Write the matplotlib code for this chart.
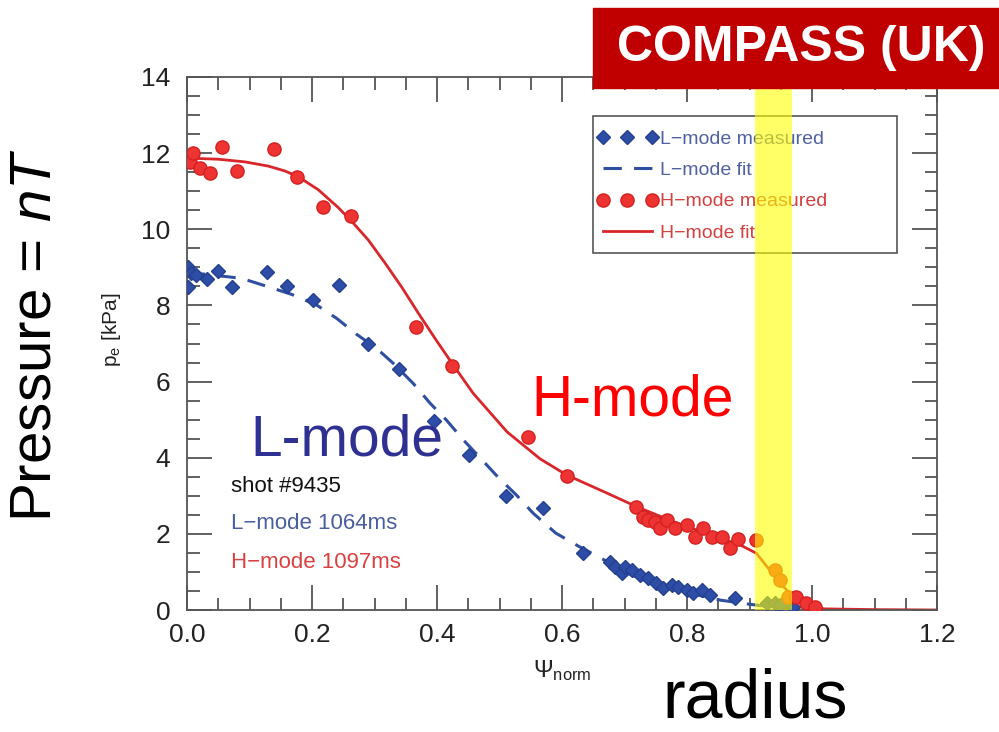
import matplotlib.pyplot as plt
import numpy as np
from matplotlib.ticker import MultipleLocator
from matplotlib.patches import Rectangle

plt.rcParams['font.family'] = ['Liberation Sans', 'DejaVu Sans']
plt.rcParams['mathtext.fontset'] = 'custom'
plt.rcParams['mathtext.rm'] = 'Liberation Sans'
plt.rcParams['mathtext.it'] = 'Liberation Sans:italic'

# H-mode profile, shot #9435 at 1097 ms
h_psi = [0.005, 0.01, 0.02, 0.037, 0.056, 0.08, 0.139, 0.176, 0.218, 0.262,
         0.366, 0.424, 0.546, 0.608, 0.719, 0.730, 0.738, 0.749, 0.757, 0.768,
         0.781, 0.800, 0.813, 0.826, 0.840, 0.856, 0.869, 0.882, 0.910, 0.941,
         0.949, 0.962, 0.975, 0.991, 1.005]
h_pe = [11.77, 12.0, 11.6, 11.48, 12.16, 11.53, 12.1, 11.37, 10.59, 10.35,
        7.43, 6.41, 4.55, 3.52, 2.71, 2.45, 2.36, 2.32, 2.15, 2.36,
        2.15, 2.23, 1.93, 2.15, 1.93, 1.93, 1.62, 1.86, 1.84, 1.05,
        0.79, 0.35, 0.35, 0.18, 0.09]

h_fit_psi = [0.0, 0.05, 0.093, 0.13, 0.157, 0.178, 0.21, 0.242, 0.264, 0.29,
             0.317, 0.344, 0.37, 0.397, 0.424, 0.458, 0.512, 0.565, 0.607, 0.672,
             0.72, 0.778, 0.831, 0.885, 0.911, 0.928, 0.949, 0.97, 0.997, 1.02,
             1.1, 1.2]
h_fit_pe = [11.87, 11.84, 11.77, 11.66, 11.53, 11.38, 11.04, 10.57, 10.2, 9.72,
            9.11, 8.47, 7.8, 7.13, 6.48, 5.69, 4.68, 3.97, 3.55, 3.07,
            2.71, 2.32, 2.01, 1.71, 1.49, 1.14, 0.70, 0.35, 0.09, 0.03,
            0.01, 0.0]

# L-mode profile, shot #9435 at 1064 ms
l_psi = [0.002, 0.007, 0.015, 0.002, 0.032, 0.05, 0.072, 0.128, 0.16, 0.202,
         0.243, 0.29, 0.339, 0.395, 0.451, 0.51, 0.570, 0.633, 0.677, 0.685,
         0.696, 0.701, 0.712, 0.725, 0.738, 0.751, 0.762, 0.776, 0.786, 0.8,
         0.81, 0.824, 0.837, 0.877, 0.928, 0.941, 0.949, 0.97]
l_pe = [9.01, 8.85, 8.8, 8.49, 8.69, 8.9, 8.49, 8.88, 8.51, 8.14,
        8.53, 6.99, 6.33, 4.96, 4.07, 2.99, 2.68, 1.5, 1.26, 1.13,
        0.97, 1.13, 1.05, 0.92, 0.84, 0.71, 0.58, 0.66, 0.61, 0.53,
        0.45, 0.53, 0.39, 0.32, 0.18, 0.18, 0.13, 0.08]

l_fit_psi = [0.0, 0.03, 0.0875, 0.13, 0.1675, 0.2075, 0.2395, 0.2715, 0.3035, 0.33,
             0.362, 0.389, 0.415, 0.442, 0.47, 0.497, 0.527, 0.554, 0.59, 0.626,
             0.658, 0.677, 0.704, 0.757, 0.81, 0.853, 0.896, 0.95, 1.0]
l_fit_pe = [8.85, 8.82, 8.71, 8.49, 8.29, 8.01, 7.66, 7.24, 6.87, 6.48,
            5.95, 5.43, 4.99, 4.47, 3.98, 3.5, 3.02, 2.54, 2.02, 1.68,
            1.4, 1.23, 0.97, 0.61, 0.42, 0.26, 0.16, 0.05, 0.0]

# pedestal region
band = [0.909, 0.968]

blue = '#2E4DA7'
red = '#EE3333'

fig = plt.figure(figsize=(9.99, 7.32), dpi=100)
ax = fig.add_axes([187 / 999, 122 / 732, 750 / 999, 533 / 732])

ax.plot(l_fit_psi, l_fit_pe, color='#2F50A0', lw=2.2, dashes=(6, 4), zorder=2,
        label='L\u2212mode fit')
ax.plot(l_psi, l_pe, 'D', color=blue, mec='#23408F', ms=7, zorder=3,
        label='L\u2212mode measured')
ax.plot(h_fit_psi, h_fit_pe, color='#D8262A', lw=2, zorder=2, label='H\u2212mode fit')
ax.plot(h_psi, h_pe, 'o', color=red, mec='#D42020', ms=9.5, zorder=3,
        label='H\u2212mode measured')

ax.axvspan(band[0], band[1], color='#FFFF00', alpha=0.6, lw=0, zorder=6)

ax.set_xlim(0, 1.2)
ax.set_ylim(0, 14)
ax.xaxis.set_major_locator(MultipleLocator(0.2))
ax.xaxis.set_minor_locator(MultipleLocator(0.05))
ax.yaxis.set_major_locator(MultipleLocator(2))
ax.yaxis.set_minor_locator(MultipleLocator(0.5))
ax.xaxis.set_major_formatter(lambda v, p: f'{v:.1f}')
ax.yaxis.set_major_formatter(lambda v, p: f'{v:.0f}')
ax.tick_params(which='both', direction='in', top=True, right=True, color='#555555',
               width=1.3, labelsize=19, labelcolor='#222222')
ax.tick_params(which='major', length=18)
ax.tick_params(which='minor', length=9)
ax.tick_params(axis='x', pad=9)
ax.tick_params(axis='y', pad=12)
for s in ax.spines.values():
    s.set_color('#555555')
    s.set_linewidth(1.3)

ax.set_ylabel('p$_\\mathrm{e}$ [kPa]', fontsize=15, color='#222222')
ax.yaxis.set_label_coords(-0.085, 0.525)
ax.set_xlabel('$\\Psi_{\\mathrm{norm}}$', fontsize=17, color='#222222', labelpad=8)

# legend: frame drawn separately so its size can be set freely
ax.add_patch(Rectangle((0.541, 0.67), 0.406, 0.257, transform=ax.transAxes,
                       facecolor='white', edgecolor='#555555', lw=1.2, zorder=4))
handles, labels = ax.get_legend_handles_labels()
order = [1, 0, 3, 2]
leg = ax.legend([handles[i] for i in order], [labels[i] for i in order],
                loc='upper left', bbox_to_anchor=(0.547, 0.9), fontsize=14,
                numpoints=3, handlelength=3.1, handletextpad=0.15, borderpad=0,
                labelspacing=0.7, frameon=False, borderaxespad=0)
for txt, c in zip(leg.get_texts(), ['#4F61A0', '#4F61A0', '#D0413F', '#D0413F']):
    txt.set_color(c)

ax.text(0.059, 0.232, 'shot #9435', transform=ax.transAxes, fontsize=16,
        color='#111111', va='center')
ax.text(0.059, 0.162, 'L\u2212mode 1064ms', transform=ax.transAxes, fontsize=16,
        color='#4A5E9F', va='center')
ax.text(0.059, 0.089, 'H\u2212mode 1097ms', transform=ax.transAxes, fontsize=16,
        color='#D94040', va='center')

fig.text(347 / 999, 1 - 440 / 732, 'L-mode', fontsize=41, color='#2E3192',
         ha='center', va='center')
fig.text(633 / 999, 1 - 400 / 732, 'H-mode', fontsize=41, color='#FF0000',
         ha='center', va='center')
fig.text(36 / 999, 1 - 335 / 732, 'Pressure = $nT$', fontsize=42, color='black',
         rotation=90, ha='center', va='center')
fig.text(755 / 999, 1 - 700 / 732, 'radius', fontsize=49, color='black',
         ha='center', va='center')

fig.patches.append(Rectangle((593 / 999, 1 - 88 / 732), 406 / 999, 80 / 732,
                             transform=fig.transFigure, color='#C00000', zorder=10))
fig.text(801 / 999, 1 - 48 / 732, 'COMPASS (UK)', fontsize=36, color='white',
         fontweight='bold', ha='center', va='center', zorder=11)

fig.savefig('out.png', dpi=100)
